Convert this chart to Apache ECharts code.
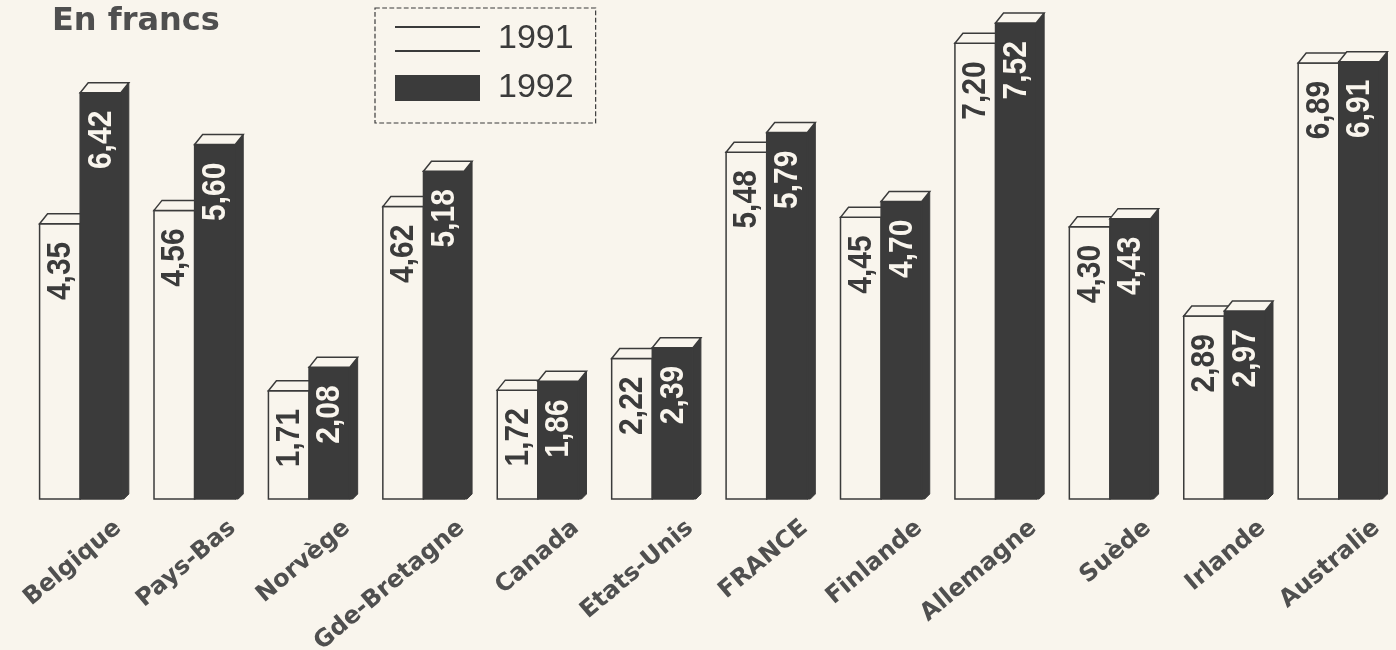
<!DOCTYPE html>
<html>
<head>
<meta charset="utf-8">
<script src="https://cdn.jsdelivr.net/npm/echarts@6/dist/echarts.min.js"></script>
<style>
html,body{margin:0;padding:0;background:#f9f5ed;}
#chart{width:1396px;height:650px;}
</style>
</head>
<body>
<div id="chart"></div>
<script>
const categories = ['Belgique','Pays-Bas','Norvège','Gde-Bretagne','Canada','Etats-Unis','FRANCE','Finlande','Allemagne','Suède','Irlande','Australie'];
const values1991 = [4.35,4.56,1.71,4.62,1.72,2.22,5.48,4.45,7.20,4.30,2.89,6.89];
const values1992 = [6.42,5.60,2.08,5.18,1.86,2.39,5.79,4.70,7.52,4.43,2.97,6.91];
const seriesNames = ['1991','1992'];
const titleText = 'En francs';

const DARK = '#3b3b3b';
const LIGHT = '#f9f5ed';
const TEXT = '#4f4f4f';

function fmt(v){ return v.toFixed(2).replace('.', ','); }

function makeBar(side, dark){
  return function(params, api){
    const i = api.value(0), v = api.value(1);
    const base = api.coord([i, 0]);
    const top = api.coord([i, v]);
    const band = api.size([1, 0])[0];
    const w = band * 0.355;
    const x1 = side === 0 ? base[0] - w : base[0];
    const x2 = x1 + w;
    const yb = base[1], yt = top[1];
    const dx = 8, dy = 10;
    const children = [];
    if (dark) {
      children.push({type:'polygon', shape:{points:[[x2,yt],[x2+dx,yt-dy],[x2+dx,yb-5],[x2+dx-5,yb],[x2,yb]]},
        style:{fill:DARK, stroke:DARK, lineWidth:1}});
    }
    children.push({type:'rect', shape:{x:x1, y:yt, width:w, height:yb-yt},
      style:{fill: dark ? DARK : LIGHT, stroke:DARK, lineWidth:1.5}});
    children.push({type:'polygon', shape:{points:[[x1,yt],[x1+dx,yt-dy],[x2+dx,yt-dy],[x2,yt]]},
      style:{fill:LIGHT, stroke:DARK, lineWidth:1.5}});
    children.push({type:'text', x:(x1+x2)/2 + 1, y:yt+18, rotation:Math.PI/2, scaleY:1.1,
      style:{text:fmt(v), fill: dark ? LIGHT : DARK, font:'bold 30px "Liberation Sans", Arial, sans-serif',
        align:'right', verticalAlign:'middle'}});
    return {type:'group', children: children};
  };
}

function renderCat(params, api){
  const i = api.value(0);
  const p = api.coord([i, 0]);
  return {type:'text', x:p[0] + 38, y:p[1] + 26, rotation: 40 * Math.PI / 180,
    style:{text: categories[i], fill: TEXT, font:'bold 24px "DejaVu Sans", sans-serif',
      align:'right', verticalAlign:'middle'}};
}

const chart = echarts.init(document.getElementById('chart'), null, {renderer:'canvas'});
chart.setOption({
  backgroundColor: LIGHT,
  animation: false,
  title: {
    text: titleText, left: 52, top: 6, padding: 0,
    textStyle: {fontFamily:'"DejaVu Sans", sans-serif', fontWeight:'bold', fontSize:32, color:TEXT}
  },
  legend: {
    orient: 'vertical', left: 375, top: 8,
    padding: [14, 22, 18, 20], itemGap: 15,
    itemWidth: 85, itemHeight: 26,
    borderColor: DARK, borderWidth: 1.2, borderType: 'dashed',
    textStyle: {fontFamily:'"Liberation Sans", Arial, sans-serif', fontSize:34, color:DARK, padding:[0,0,0,13]},
    data: [
      {name: seriesNames[0], icon:'path://M0,0H85V2H0ZM0,24H85V26H0Z', itemStyle:{color:DARK, borderWidth:0}},
      {name: seriesNames[1], icon:'rect', itemStyle:{color:DARK}}
    ]
  },
  grid: {left: 23, right: 0, top: 18, bottom: 151},
  xAxis: {type:'category', data: categories, axisLine:{show:false}, axisTick:{show:false}, axisLabel:{show:false}, splitLine:{show:false}},
  yAxis: {type:'value', min:0, max:7.6, show:false},
  series: [
    {name: seriesNames[0], type:'custom', renderItem: makeBar(0, false), silent:true,
      itemStyle:{color:LIGHT, borderColor:DARK},
      encode:{x:0, y:1}, data: values1991.map((v,i)=>[i,v])},
    {name: seriesNames[1], type:'custom', renderItem: makeBar(1, true), silent:true,
      itemStyle:{color:DARK},
      encode:{x:0, y:1}, data: values1992.map((v,i)=>[i,v])},
    {name: 'labels', type:'custom', renderItem: renderCat, silent:true,
      encode:{x:0, y:1}, data: categories.map((c,i)=>[i,0])}
  ]
});
</script>
</body>
</html>
